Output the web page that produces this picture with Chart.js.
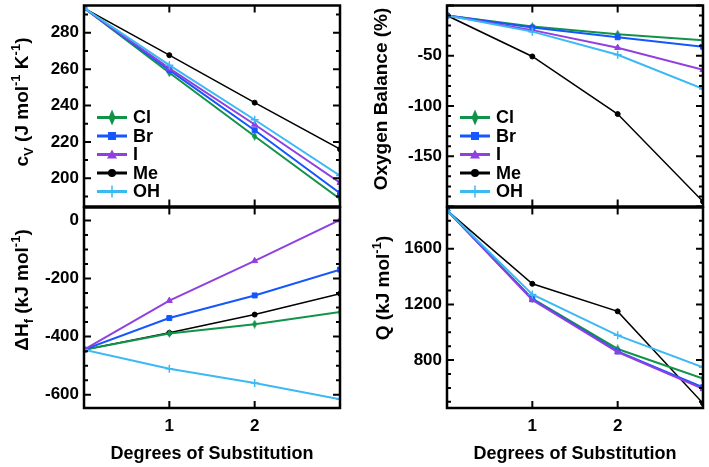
<!DOCTYPE html>
<html>
<head>
<meta charset="utf-8"/>
<title>Degrees of Substitution</title>
<script src="https://cdn.jsdelivr.net/npm/chart.js@4.4.1/dist/chart.umd.min.js"></script>
<style>
    body { margin:0; background:#fff; width:709px; height:467px; position:relative; overflow:hidden;
           font-family:"Liberation Sans", Arial, sans-serif; }
    .box { position:absolute; }
    .ytitle { position:absolute; font-weight:bold; font-size:19px; white-space:nowrap; color:#000;
              transform:translate(-50%,-50%) rotate(-90deg); line-height:1; }
    .ytitle sub, .ytitle sup { font-size:13px; }
</style>
</head>
<body>

<div class="box" style="left:0;top:0"><canvas id="cvChart" width="350" height="212"></canvas></div>
<div class="box" style="left:0;top:202px"><canvas id="hfChart" width="350" height="265"></canvas></div>
<div class="box" style="left:350px;top:0"><canvas id="obChart" width="359" height="212"></canvas></div>
<div class="box" style="left:350px;top:202px"><canvas id="qChart" width="359" height="265"></canvas></div>

<div class="ytitle" style="left:22px;top:102px">c<sub>V</sub> (J mol<sup>-1</sup> K<sup>-1</sup>)</div>
<div class="ytitle" style="left:22px;top:290px">ΔH<sub>f</sub> (kJ mol<sup>-1</sup>)</div>
<div class="ytitle" style="left:380px;top:99px">Oxygen Balance (%)</div>
<div class="ytitle" style="left:381px;top:288px">Q (kJ mol<sup>-1</sup>)</div>

<script>
    // x values and labels
    var degrees = [0, 1, 2, 3];
    var xTickLabels = [1, 2];
    var groups = ['Cl', 'Br', 'I', 'Me', 'OH'];

    // heat capacity cv (J mol-1 K-1)
    var cvCl = [293.6, 258.0, 223.1, 188.6];
    var cvBr = [293.6, 259.5, 226.4, 191.8];
    var cvI  = [293.6, 260.4, 229.6, 197.6];
    var cvMe = [293.6, 267.7, 241.6, 216.0];
    var cvOH = [293.6, 262.2, 232.2, 201.5];
    var cvTicks = [200, 220, 240, 260, 280];

    // heat of formation (kJ mol-1)
    var hfCl = [-445, -389, -357, -315];
    var hfBr = [-445, -336, -258, -169];
    var hfI  = [-445, -276, -139, 2];
    var hfMe = [-445, -387, -324, -252];
    var hfOH = [-445, -511, -560, -616];
    var hfTicks = [-600, -400, -200, 0];

    // oxygen balance (%)
    var obCl = [-10, -21, -28.5, -34.5];
    var obBr = [-10, -22, -31.6, -41];
    var obI  = [-10, -24.5, -42, -64];
    var obMe = [-10, -50.7, -108, -195];
    var obOH = [-10, -26, -49, -83];
    var obTicks = [-150, -100, -50];

    // heat of detonation Q (kJ mol-1)
    var qCl = [1875, 1241, 880, 667];
    var qBr = [1875, 1238, 862, 605];
    var qI  = [1875, 1232, 858, 593];
    var qMe = [1875, 1348, 1150, 490];
    var qOH = [1875, 1272, 978, 748];
    var qTicks = [800, 1200, 1600];

    var colors = ['#12934a', '#1457ff', '#9140e0', '#000000', '#3cb9f5'];
    var orders = [3, 2, 1, 4, 0];

    function diamondCanvas(w, h, color) {
        var c = document.createElement('canvas');
        c.width = w; c.height = h;
        var g = c.getContext('2d');
        g.fillStyle = color;
        g.beginPath();
        g.moveTo(w / 2, 0); g.lineTo(w, h / 2); g.lineTo(w / 2, h); g.lineTo(0, h / 2);
        g.closePath(); g.fill();
        return c;
    }
    var smallDiamond = diamondCanvas(5, 9, colors[0]);

    var pointStyles = [smallDiamond, 'rect', 'triangle', 'circle', 'cross'];
    var pointRadius = [4, 3.5, 3.5, 2.5, 4];
    var lineWidths = [2, 2, 2, 1.5, 2];

    function drawMarker(ctx, i, x, y) {
        ctx.fillStyle = colors[i];
        ctx.strokeStyle = colors[i];
        ctx.beginPath();
        if (i == 0) {
            ctx.moveTo(x, y - 8); ctx.lineTo(x + 3.5, y); ctx.lineTo(x, y + 8); ctx.lineTo(x - 3.5, y);
            ctx.closePath(); ctx.fill();
        } else if (i == 1) {
            ctx.fillRect(x - 4, y - 4, 8, 8);
        } else if (i == 2) {
            ctx.moveTo(x, y - 5); ctx.lineTo(x + 5, y + 4); ctx.lineTo(x - 5, y + 4);
            ctx.closePath(); ctx.fill();
        } else if (i == 3) {
            ctx.arc(x, y, 4, 0, Math.PI * 2); ctx.fill();
        } else {
            ctx.lineWidth = 1.5;
            ctx.moveTo(x, y - 6); ctx.lineTo(x, y + 6); ctx.stroke();
        }
    }

    // frame, inward tick marks and the inner legend
    var framePlugin = {
        id: 'frame',
        afterDraw: function (chart, args, o) {
            var ctx = chart.ctx, a = chart.chartArea;
            var ys = chart.scales.y, xs = chart.scales.x;
            ctx.save();
            ctx.strokeStyle = '#000';
            ctx.lineWidth = 2;
            ctx.beginPath();
            for (var v = Math.ceil(ys.min / o.minor) * o.minor; v <= ys.max; v += o.minor) {
                var py = ys.getPixelForValue(v);
                var len = Math.abs(v % o.major) < 1e-6 ? 7 : 4;
                ctx.moveTo(a.left, py); ctx.lineTo(a.left + len, py);
                ctx.moveTo(a.right, py); ctx.lineTo(a.right - len, py);
            }
            xTickLabels.forEach(function (t) {
                var px = xs.getPixelForValue(t);
                ctx.moveTo(px, a.top); ctx.lineTo(px, a.top + 7);
                ctx.moveTo(px, a.bottom); ctx.lineTo(px, a.bottom - 7);
            });
            ctx.stroke();
            ctx.lineWidth = 2.5;
            ctx.strokeRect(a.left, a.top, a.right - a.left, a.bottom - a.top);

            if (o.legend) {
                chart.data.datasets.forEach(function (ds, i) {
                    var y = a.top + 112 + i * 18.5;
                    ctx.strokeStyle = colors[i];
                    ctx.lineWidth = 3;
                    ctx.beginPath();
                    ctx.moveTo(a.left + 13, y); ctx.lineTo(a.left + 43, y);
                    ctx.stroke();
                    drawMarker(ctx, i, a.left + 28, y);
                    ctx.fillStyle = '#000';
                    ctx.font = 'bold 18px "Liberation Sans", Arial, sans-serif';
                    ctx.textBaseline = 'middle';
                    ctx.fillText(ds.label, a.left + 49, y + 1);
                });
            }
            ctx.restore();
        }
    };

    function noPad(s) {
        s.paddingTop = 0; s.paddingBottom = 0; s.paddingLeft = 0; s.paddingRight = 0;
    }

    function makePanel(id, series, p) {
        var datasets = series.map(function (vals, i) {
            return {
                label: groups[i],
                data: degrees.map(function (d, k) { return {x: d, y: vals[k]}; }),
                borderColor: colors[i],
                backgroundColor: colors[i],
                borderWidth: lineWidths[i],
                pointStyle: pointStyles[i],
                pointRadius: pointRadius[i],
                pointBorderWidth: i == 4 ? 1.5 : 1,
                pointBackgroundColor: colors[i],
                pointBorderColor: colors[i],
                order: orders[i],
                tension: 0
            };
        });
        var tickFont = {family: '"Liberation Sans", Arial, sans-serif', size: 17, weight: 'bold'};
        var xAxis = {type: 'linear', min: 0, max: 3, display: false};
        if (p.bottom) {
            xAxis = {
                type: 'linear', min: 0, max: 3,
                grid: {display: false, drawTicks: false},
                border: {display: false},
                afterBuildTicks: function (s) { s.ticks = xTickLabels.map(function (v) { return {value: v}; }); },
                ticks: {font: tickFont, color: '#000', padding: 8, maxRotation: 0, autoSkip: false,
                        callback: function (v) { return String(v); }},
                title: {display: true, text: 'Degrees of Substitution', color: '#000',
                        font: {family: '"Liberation Sans", Arial, sans-serif', size: 18, weight: 'bold'},
                        padding: {top: 0, bottom: 2}},
                afterFit: function (s) { s.height = 59; noPad(s); }
            };
        }
        return new Chart(document.getElementById(id), {
            type: 'line',
            data: {datasets: datasets},
            options: {
                responsive: false,
                animation: false,
                layout: {padding: {left: 0, right: p.right, top: p.bottom ? 5 : 4, bottom: p.bottom ? 0 : 5}},
                scales: {
                    x: xAxis,
                    y: {
                        type: 'linear', min: p.min, max: p.max,
                        grid: {display: false, drawTicks: false},
                        border: {display: false},
                        afterBuildTicks: function (s) { s.ticks = p.ticks.map(function (v) { return {value: v}; }); },
                        ticks: {font: tickFont, color: '#000', padding: 5,
                                callback: function (v) { return String(v); }},
                        afterFit: function (s) { s.width = p.yw; noPad(s); }
                    }
                },
                plugins: {
                    legend: {display: false},
                    tooltip: {enabled: false},
                    frame: {minor: p.minor, major: p.major, legend: !p.bottom}
                }
            },
            plugins: [framePlugin]
        });
    }

    makePanel('cvChart', [cvCl, cvBr, cvI, cvMe, cvOH],
        {min: 184.5, max: 295, ticks: cvTicks, minor: 10, major: 20, yw: 84, right: 10, bottom: false});
    makePanel('hfChart', [hfCl, hfBr, hfI, hfMe, hfOH],
        {min: -646, max: 45, ticks: hfTicks, minor: 50, major: 200, yw: 84, right: 10, bottom: true});
    makePanel('obChart', [obCl, obBr, obI, obMe, obOH],
        {min: -200, max: 0, ticks: obTicks, minor: 10, major: 50, yw: 97, right: 6, bottom: false});
    makePanel('qChart', [qCl, qBr, qI, qMe, qOH],
        {min: 456, max: 1896, ticks: qTicks, minor: 100, major: 400, yw: 97, right: 6, bottom: true});
</script>
</body>
</html>
